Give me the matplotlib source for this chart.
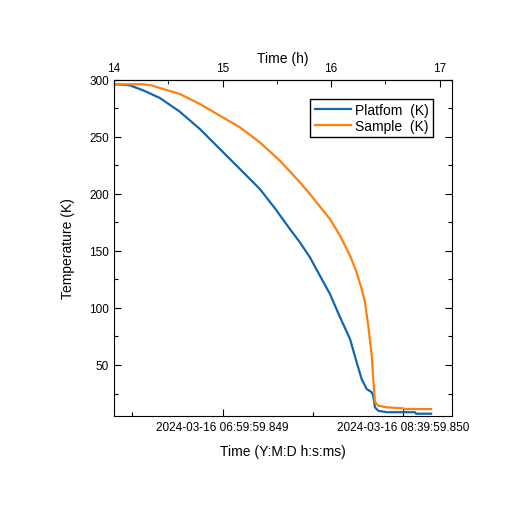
import numpy as np
import matplotlib
matplotlib.use("Agg")
import matplotlib.pyplot as plt
from matplotlib.ticker import MultipleLocator, FixedLocator

plt.rcParams["font.family"] = ["Liberation Sans", "DejaVu Sans"]

# time in hours (top axis), temperature in K
platform_h = [14.000, 14.145, 14.268, 14.422, 14.606, 14.791, 14.975, 15.160, 15.344,
              15.483, 15.621, 15.713, 15.805, 15.898, 15.990, 16.083, 16.175, 16.236,
              16.282, 16.328, 16.375, 16.389, 16.405, 16.435, 16.513, 16.774, 16.783,
              16.922]
platform_T = [296.2, 295.1, 290.7, 284.0, 272.0, 256.8, 239.3, 221.8, 204.2,
              187.3, 169.1, 157.5, 144.4, 128.2, 112.2, 91.8, 72.8, 52.4,
              37.7, 29.0, 26.1, 23.1, 12.9, 9.9, 8.6, 8.6, 7.3,
              7.3]

sample_h = [14.000, 14.265, 14.350, 14.422, 14.606, 14.791, 14.975, 15.160, 15.344,
            15.529, 15.713, 15.805, 15.990, 16.083, 16.175, 16.236, 16.282, 16.313,
            16.343, 16.375, 16.389, 16.405, 16.435, 16.513, 16.666, 16.672, 16.922]
sample_T = [296.0, 296.0, 295.0, 292.7, 287.5, 278.7, 268.5, 258.3, 245.1,
            229.0, 210.1, 199.8, 177.9, 163.3, 145.8, 131.2, 116.6, 104.9,
            84.4, 58.1, 37.7, 17.6, 14.3, 12.9, 12.0, 11.4, 11.4]

date_ticks = [15.0, 15 + 100 / 60]
date_labels = ["2024-03-16 06:59:59.849", "2024-03-16 08:39:59.850"]
hour_ticks = [14, 15, 16, 17]

fig = plt.figure(figsize=(5.15, 5.06), dpi=100)
ax = fig.add_axes([0.2214, 0.1759, 0.6563, 0.6646])

ax.plot(platform_h, platform_T, color="#1067b0", lw=1.6, label="Platfom  (K)")
ax.plot(sample_h, sample_T, color="#ff7f0e", lw=1.6, label="Sample  (K)")

ax.set_xlim(14.0, 17.115)
ax.set_ylim(5.3, 300)

ax.xaxis.set_major_locator(FixedLocator(date_ticks))
ax.set_xticklabels(date_labels)
ax.xaxis.set_minor_locator(FixedLocator([15 - 50 / 60, 15 + 50 / 60]))
ax.set_yticks([50, 100, 150, 200, 250, 300])
ax.yaxis.set_minor_locator(MultipleLocator(25))
ax.tick_params(which="both", direction="in", labelsize=8.5, right=True)
ax.tick_params(which="major", length=5, width=0.8)
ax.tick_params(which="minor", length=3, width=0.8)

ax.set_xlabel("Time (Y:M:D h:s:ms)", fontsize=10, labelpad=8)
ax.set_ylabel("Temperature (K)", fontsize=10, labelpad=10)

top = ax.secondary_xaxis("top")
top.set_xticks(hour_ticks)
top.set_xticklabels([str(t) for t in hour_ticks])
top.xaxis.set_minor_locator(FixedLocator([14.5, 15.5, 16.5]))
top.tick_params(which="both", direction="in", labelsize=8.5, pad=4)
top.tick_params(which="major", length=5)
top.tick_params(which="minor", length=3)
top.set_xlabel("Time (h)", fontsize=10, labelpad=0)

leg = ax.legend(loc="upper right", bbox_to_anchor=(0.943, 0.943), borderaxespad=0,
                fontsize=10, fancybox=False, edgecolor="black", framealpha=1,
                handlelength=2.6, handletextpad=0.3, labelspacing=0.15,
                borderpad=0.3)
leg.get_frame().set_linewidth(1.0)

fig.savefig("out.png", dpi=100)
